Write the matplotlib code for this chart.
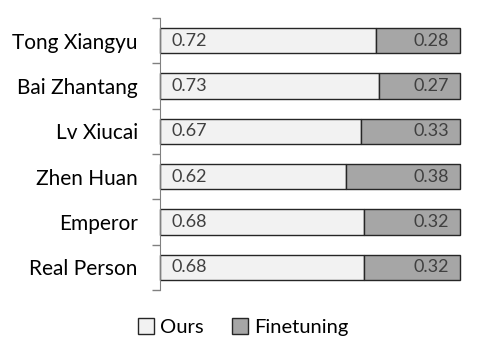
import matplotlib.pyplot as plt
import numpy as np

plt.rcParams['font.family'] = ['Lato', 'DejaVu Sans']

categories = ["Tong Xiangyu", "Bai Zhantang", "Lv Xiucai", "Zhen Huan", "Emperor", "Real Person"]
ours = [0.72, 0.73, 0.67, 0.62, 0.68, 0.68]
finetuning = [0.28, 0.27, 0.33, 0.38, 0.32, 0.32]

fig = plt.figure(figsize=(4.78, 3.58), dpi=100)
ax = fig.add_axes([160 / 478, 1 - 290 / 358, 300 / 478, 272 / 358])

y = np.arange(len(categories))[::-1]
h = 0.56
b1 = ax.barh(y, ours, height=h, color="#f2f2f2", edgecolor="#262626", linewidth=1, label="Ours")
b2 = ax.barh(y, finetuning, left=ours, height=h, color="#a6a6a6", edgecolor="#262626", linewidth=1, label="Finetuning")
for bar in list(b1) + list(b2):
    bar.set_clip_on(False)

for yi, o, f in zip(y, ours, finetuning):
    ax.text(0.037, yi, f"{o:.2f}", va="center", ha="left", fontsize=13, color="#404040")
    ax.text(o + f - 0.037, yi, f"{f:.2f}", va="center", ha="right", fontsize=13, color="#404040")

ax.set_xlim(0, 1.0)
ax.set_ylim(-0.5, len(categories) - 0.5)
ax.set_yticks(y)
ax.set_yticklabels(categories, fontsize=15, color="#000000")
ax.tick_params(axis="y", which="major", length=0, pad=16)
ax.set_yticks(np.arange(-0.5, len(categories)), minor=True)
ax.tick_params(axis="y", which="minor", length=6, color="#808080", width=1)
ax.set_xticks([])
for s in ["top", "right", "bottom"]:
    ax.spines[s].set_visible(False)
ax.spines["left"].set_color("#808080")

fig.legend(handles=[b1, b2], loc="center", bbox_to_anchor=(243 / 478, 1 - 327 / 358), ncol=2,
           frameon=False, fontsize=14.5, handlelength=0.8, handleheight=0.8,
           handletextpad=0.3, columnspacing=1.4)

fig.savefig("out.png", dpi=100)
